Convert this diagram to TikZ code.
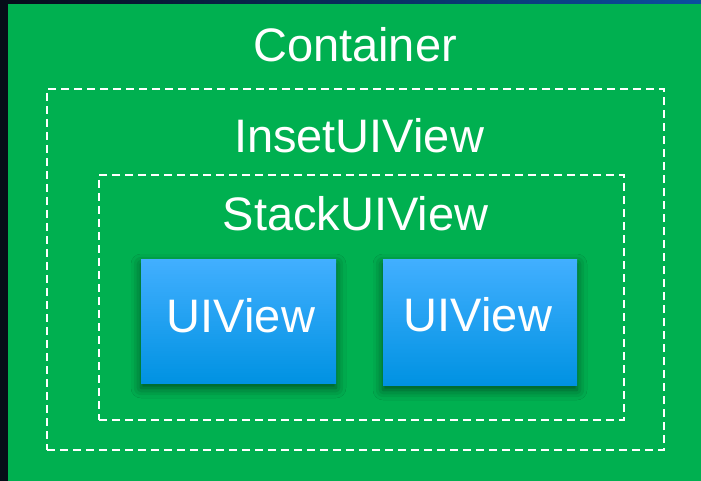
\documentclass[tikz,border=0pt]{standalone}
\usepackage{fontspec}
\setmainfont{Liberation Sans}
\usetikzlibrary{shadows.blur}
\definecolor{navy}{HTML}{060C18}
\definecolor{deepblue}{HTML}{0B4FA0}
\definecolor{panelgreen}{HTML}{00B050}
\definecolor{viewtop}{HTML}{42AFFF}
\definecolor{viewmid}{HTML}{03A2F2}
\definecolor{viewbot}{HTML}{0092E2}

\begin{document}
\begin{tikzpicture}[x=1pt,y=-1pt,
  title/.style={text=white, font=\fontsize{47}{56}\selectfont, inner sep=0pt, anchor=base},
  box/.style={rectangle, inner sep=0pt, outer sep=0pt, anchor=north west},
  frame/.style={box, draw=white, line width=2pt, dash pattern=on 8pt off 5pt},
  viewbox/.style={box, top color=viewtop, middle color=viewmid, bottom color=viewbot,
    blur shadow={shadow xshift=0pt, shadow yshift=-5pt, shadow blur radius=10pt, shadow opacity=55}},
]
\useasboundingbox (0,0) rectangle (701,481);
% dark backdrop with a blue glow along the top edge
\fill[navy] (0,0) rectangle (701,481);
\shade[left color=navy, right color=deepblue] (0,0) rectangle (701,4);

% green container panel
\node[box, fill=panelgreen, minimum width=693pt, minimum height=477pt] (container) at (8,4) {};
\node[title] (containerlabel) at (355,62) {Container};

% dashed inset view
\node[frame, minimum width=617pt, minimum height=361pt] (inset) at (47,89) {};
\node[title] (insetlabel) at (359,153) {InsetUIView};

% dashed stack view
\node[frame, minimum width=525pt, minimum height=245pt] (stack) at (99,175) {};
\node[title] (stacklabel) at (355.5,230) {StackUIView};

% the two arranged views
\node[viewbox, minimum width=195pt, minimum height=124pt] (viewa) at (141,259) {};
\node[title] (viewalabel) at (241,332) {UIView};
\node[viewbox, minimum width=194pt, minimum height=126pt] (viewb) at (383,259) {};
\node[title] (viewblabel) at (478,331) {UIView};
\end{tikzpicture}
\end{document}
